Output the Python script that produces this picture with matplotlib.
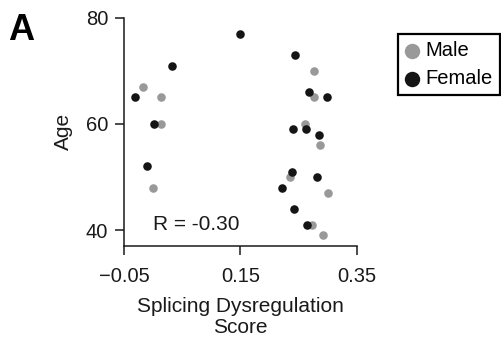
import matplotlib
matplotlib.use("Agg")
import matplotlib.pyplot as plt

plt.rcParams['font.family'] = ['Liberation Sans', 'DejaVu Sans']

# valores
male_score = [-0.017, 0.014, 0.013, 0.000, 0.276, 0.276, 0.260, 0.286, 0.235, 0.301, 0.273, 0.291]
male_age = [67, 65, 60, 48, 70, 65, 60, 56, 50, 47, 41, 39]

female_score = [-0.031, 0.032, 0.002, -0.010, 0.149, 0.243, 0.268, 0.299, 0.241, 0.262,
                0.285, 0.238, 0.281, 0.222, 0.242, 0.264]
female_age = [65, 71, 60, 52, 77, 73, 66, 65, 59, 59, 58, 51, 50, 48, 44, 41]

xticks = [-0.05, 0.15, 0.35]
yticks = [40, 60, 80]
r_text = "R = -0.30"

fig = plt.figure(figsize=(5.02, 3.43), dpi=100)
ax = fig.add_axes([0.247, 0.283, 0.464, 0.665])

ax.scatter(male_score, male_age, s=38, color='#999999', label='Male', linewidths=0, zorder=3)
ax.scatter(female_score, female_age, s=38, color='#151515', label='Female', linewidths=0, zorder=4)

ax.set_xlim(-0.05, 0.35)
ax.set_ylim(37, 80)
ax.set_xticks(xticks)
ax.set_xticklabels(['\u22120.05', '0.15', '0.35'])
ax.set_yticks(yticks)
ax.tick_params(direction='out', length=6.5, width=1.1, labelsize=14.5, colors='#1a1a1a')
ax.tick_params(axis='x', pad=8.5)
ax.tick_params(axis='y', pad=5)
for s in ['top', 'right']:
    ax.spines[s].set_visible(False)
for s in ['left', 'bottom']:
    ax.spines[s].set_linewidth(1.1)
    ax.spines[s].set_color('#1a1a1a')

ax.set_xlabel("Splicing Dysregulation\nScore", fontsize=15, labelpad=8, linespacing=1.12, color='#1a1a1a')
ax.set_ylabel("Age", fontsize=15, labelpad=9, color='#1a1a1a')

ax.text(0.0, 41.1, r_text, fontsize=15, va='center', ha='left', color='#1a1a1a')

fig.text(0.016, 0.912, "A", fontsize=26, fontweight='bold', va='center', ha='left')

leg = fig.legend(loc='upper left', bbox_to_anchor=(0.793, 0.901), borderaxespad=0,
                 fontsize=14.5, markerscale=1.8, handlelength=0.7, handletextpad=0.3,
                 labelspacing=0.45, borderpad=0.35, fancybox=False, framealpha=1)
leg.get_frame().set_edgecolor('black')
leg.get_frame().set_linewidth(1.6)

fig.savefig("out.png", dpi=100)
